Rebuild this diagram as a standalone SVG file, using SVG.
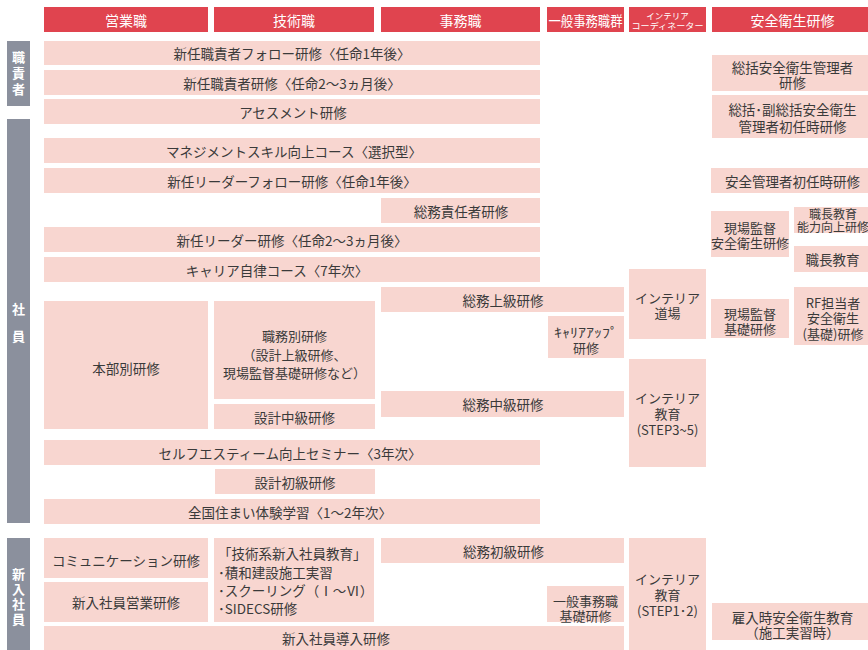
<svg xmlns="http://www.w3.org/2000/svg" width="868" height="650" viewBox="0 0 868 650">
<style>
text{font-family:"Noto Sans CJK JP","Noto Sans",sans-serif;text-anchor:middle;dominant-baseline:central}
.hd{fill:#e0444f}
.ht{fill:#fff;font-size:14px}
.bx{fill:#f8d6d0}
.t{fill:#3a3a3a;font-size:13.5px}
.s{fill:#3a3a3a;font-size:13px}
.lb{fill:#8b909d}
.lt{fill:#fff;font-size:13px;font-weight:bold}
</style>
<rect width="868" height="650" fill="#fff"/>
<g id="header">
<g id="h-eigyo"><rect class="hd" x="44" y="7" width="164" height="25"/><text class="ht" x="126" y="19.5">営業職</text></g>
<g id="h-gijutsu"><rect class="hd" x="214" y="7" width="160" height="25"/><text class="ht" x="294" y="19.5">技術職</text></g>
<g id="h-jimu"><rect class="hd" x="381" y="7" width="159" height="25"/><text class="ht" x="460.5" y="19.5">事務職</text></g>
<g id="h-ippan"><rect class="hd" x="547" y="7" width="77" height="25"/><text class="ht" x="585.5" y="19.5" font-size="12.5" textLength="74" lengthAdjust="spacingAndGlyphs">一般事務職群</text></g>
<g id="h-interior"><rect class="hd" x="629" y="7" width="77" height="25"/><text class="ht" style="font-size:8.5px"><tspan x="667.5" y="14.5">インテリア</tspan><tspan x="667.5" y="25" textLength="72" lengthAdjust="spacingAndGlyphs">コーディネーター</tspan></text></g>
<g id="h-anzen"><rect class="hd" x="712" y="7" width="160" height="25"/><text class="ht" x="792.5" y="19.5">安全衛生研修</text></g>
</g>
<g id="labels">
<g id="l-shokuseki"><rect class="lb" x="7" y="41" width="23" height="65"/><text class="lt"><tspan x="18.5" y="56">職</tspan><tspan x="18.5" y="72">責</tspan><tspan x="18.5" y="88">者</tspan></text></g>
<g id="l-shain"><rect class="lb" x="7" y="119" width="23" height="404"/><text class="lt"><tspan x="18.5" y="308">社</tspan><tspan x="18.5" y="335">員</tspan></text></g>
<g id="l-shinnyu"><rect class="lb" x="7" y="538" width="23" height="115"/><text class="lt"><tspan x="18.5" y="573">新</tspan><tspan x="18.5" y="588">入</tspan><tspan x="18.5" y="603">社</tspan><tspan x="18.5" y="618">員</tspan></text></g>
</g>
<g id="nodes">
<g id="n1"><rect class="bx" x="44" y="41" width="496" height="24"/><text class="t" x="292" y="53">新任職責者フォロー研修〈任命1年後〉</text></g>
<g id="n2"><rect class="bx" x="44" y="70" width="496" height="25"/><text class="t" x="292" y="82.5">新任職責者研修〈任命2〜3ヵ月後〉</text></g>
<g id="n3"><rect class="bx" x="44" y="99" width="496" height="25"/><text class="t" x="293" y="111.5">アセスメント研修</text></g>
<g id="n4"><rect class="bx" x="44" y="138" width="496" height="25"/><text class="t" x="294" y="150.5">マネジメントスキル向上コース〈選択型〉</text></g>
<g id="n5"><rect class="bx" x="44" y="168" width="496" height="25"/><text class="t" x="292" y="180.5">新任リーダーフォロー研修〈任命1年後〉</text></g>
<g id="n6"><rect class="bx" x="381" y="198" width="159" height="25"/><text class="t" x="461" y="210.5">総務責任者研修</text></g>
<g id="n7"><rect class="bx" x="44" y="227" width="496" height="25"/><text class="t" x="292" y="239.5">新任リーダー研修〈任命2〜3ヵ月後〉</text></g>
<g id="n8"><rect class="bx" x="44" y="257" width="496" height="25"/><text class="t" x="277" y="269.5">キャリア自律コース〈7年次〉</text></g>
<g id="n9"><rect class="bx" x="381" y="287" width="243" height="25"/><text class="t" x="503" y="299.5">総務上級研修</text></g>
<g id="n10"><rect class="bx" x="548" y="316" width="76" height="42"/><text class="s"><tspan x="586" y="331" textLength="64" lengthAdjust="spacingAndGlyphs">ｷｬﾘｱｱｯﾌﾟ</tspan><tspan x="586" y="347">研修</tspan></text></g>
<g id="n11"><rect class="bx" x="44" y="301" width="164" height="128"/><text class="t" x="126" y="368">本部別研修</text></g>
<g id="n12"><rect class="bx" x="214" y="301" width="161" height="98"/><text class="s"><tspan x="294.5" y="335">職務別研修</tspan><tspan x="294.5" y="353.5">（設計上級研修、</tspan><tspan x="294.5" y="372">現場監督基礎研修など）</tspan></text></g>
<g id="n13"><rect class="bx" x="214" y="404" width="161" height="25"/><text class="t" x="294.5" y="416.5">設計中級研修</text></g>
<g id="n14"><rect class="bx" x="381" y="391" width="243" height="26"/><text class="t" x="503" y="404">総務中級研修</text></g>
<g id="n15"><rect class="bx" x="629" y="269" width="77" height="70"/><text class="s"><tspan x="667.5" y="297">インテリア</tspan><tspan x="667.5" y="312">道場</tspan></text></g>
<g id="n16"><rect class="bx" x="629" y="359" width="77" height="108"/><text class="s"><tspan x="667.5" y="397">インテリア</tspan><tspan x="667.5" y="413">教育</tspan><tspan x="667.5" y="428.5">(STEP3~5)</tspan></text></g>
<g id="n17"><rect class="bx" x="44" y="440" width="496" height="25"/><text class="t" x="290" y="452.5">セルフエスティーム向上セミナー〈3年次〉</text></g>
<g id="n18"><rect class="bx" x="215" y="469" width="160" height="25"/><text class="t" x="295" y="481.5">設計初級研修</text></g>
<g id="n19"><rect class="bx" x="44" y="499" width="496" height="25"/><text class="t" x="290" y="511.5">全国住まい体験学習〈1〜2年次〉</text></g>
<g id="n20"><rect class="bx" x="44" y="538" width="164" height="40"/><text class="t" x="126" y="560">コミュニケーション研修</text></g>
<g id="n21"><rect class="bx" x="44" y="582" width="164" height="40"/><text class="t" x="126" y="602">新入社員営業研修</text></g>
<g id="n22"><rect class="bx" x="214" y="538" width="160" height="84"/><text class="t" style="text-anchor:start"><tspan x="218" y="553">「技術系新入社員教育」</tspan><tspan x="218" y="572">･積和建設施工実習</tspan><tspan x="218" y="590">･スクーリング（Ⅰ～Ⅵ）</tspan><tspan x="218" y="608">･SIDECS研修</tspan></text></g>
<g id="n23"><rect class="bx" x="381" y="538" width="243" height="25"/><text class="t" x="503.5" y="550.5">総務初級研修</text></g>
<g id="n24"><rect class="bx" x="547" y="586" width="77" height="36"/><text class="s"><tspan x="585.5" y="600">一般事務職</tspan><tspan x="585.5" y="614.5">基礎研修</tspan></text></g>
<g id="n25"><rect class="bx" x="629" y="538" width="77" height="115"/><text class="s"><tspan x="667.5" y="578">インテリア</tspan><tspan x="667.5" y="594">教育</tspan><tspan x="667.5" y="609.5">(STEP1･2)</tspan></text></g>
<g id="n26"><rect class="bx" x="44" y="626" width="580" height="27"/><text class="t" x="336" y="637.5">新入社員導入研修</text></g>
<g id="r1"><rect class="bx" x="712" y="55" width="160" height="36"/><text class="t"><tspan x="792.5" y="66.5">総括安全衛生管理者</tspan><tspan x="792.5" y="82">研修</tspan></text></g>
<g id="r2"><rect class="bx" x="712" y="95" width="160" height="43"/><text class="t"><tspan x="792.5" y="109">総括･副総括安全衛生</tspan><tspan x="792.5" y="126">管理者初任時研修</tspan></text></g>
<g id="r3"><rect class="bx" x="711" y="168" width="161" height="25"/><text class="t" x="792.5" y="180.5">安全管理者初任時研修</text></g>
<g id="r4"><rect class="bx" x="711" y="211" width="78" height="46"/><text class="s"><tspan x="750" y="227">現場監督</tspan><tspan x="750" y="242">安全衛生研修</tspan></text></g>
<g id="r5"><rect class="bx" x="794" y="207" width="78" height="26"/><text class="s" style="font-size:12px"><tspan x="833" y="212.5">職長教育</tspan><tspan x="797" y="225.5" style="text-anchor:start">能力向上研修</tspan></text></g>
<g id="r6"><rect class="bx" x="794" y="246" width="78" height="26"/><text class="t" x="832.5" y="259">職長教育</text></g>
<g id="r7"><rect class="bx" x="711" y="299" width="78" height="39"/><text class="s"><tspan x="750" y="313">現場監督</tspan><tspan x="750" y="328">基礎研修</tspan></text></g>
<g id="r8"><rect class="bx" x="794" y="287" width="78" height="58"/><text class="s"><tspan x="833" y="302">RF担当者</tspan><tspan x="833" y="317">安全衛生</tspan><tspan x="833" y="332.5">(基礎)研修</tspan></text></g>
<g id="r9"><rect class="bx" x="712" y="603" width="160" height="37"/><text class="t"><tspan x="792.5" y="617">雇入時安全衛生教育</tspan><tspan x="792.5" y="631.5">（施工実習時）</tspan></text></g>
</g>
<g id="connectors"/>
</svg>
